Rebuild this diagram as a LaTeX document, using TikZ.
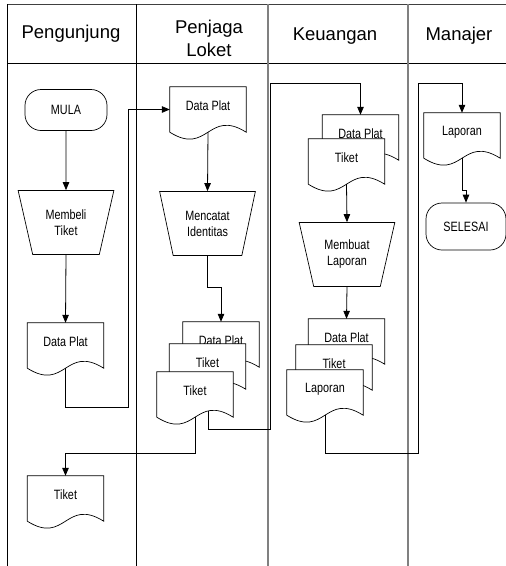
\documentclass[tikz,border=0pt]{standalone}
\usepackage{fontspec}
\setmainfont{Liberation Sans}
\newfontfamily\narrowsf[FakeStretch=0.8]{Liberation Sans}
\usetikzlibrary{arrows.meta,shapes.geometric,calc}
\newcommand\docshape[3]{%
  \node[docbox] (#1) at (#2) {};
  \draw[shp,fill=white] (#1.north west) -- (#1.north east) -- (#1.south east)
    .. controls ($(#1.south)+(0,-24)$) and ($(#1.south)+(0,24)$) .. (#1.south west) -- cycle;
  \node[doctxt] (#1-t) at ([yshift=-19pt]#1.north) {#3};
}

\begin{document}
\begin{tikzpicture}[x=1pt, y=-1pt, >={Triangle[length=8pt,width=6.5pt]},
    shp/.style={draw, line width=0.7pt},
    head/.style={font=\fontsize{18.5}{23}\selectfont, align=center},
    doctxt/.style={font=\narrowsf\fontsize{13.5}{15}\selectfont, inner sep=0pt},
    docbox/.style={rectangle, inner sep=0pt, minimum width=76pt, minimum height=45pt},
    terminal/.style={shp, rectangle, rounded corners=16pt, minimum width=82pt, minimum height=41pt, font=\narrowsf\fontsize{13.5}{15}\selectfont},
    proc/.style={shp, trapezium, trapezium angle=71, shape border rotate=180, trapezium stretches=true,
      minimum width=96pt, minimum height=64pt, inner sep=0pt, align=center, font=\narrowsf\fontsize{13.5}{16}\selectfont},
    conn/.style={line width=0.8pt}]
  \useasboundingbox (0,0) rectangle (506,566);
  % lanes
  \draw[line width=0.9pt, black!75] (7,4) -- (506,4);
  \draw[line width=0.9pt] (7,63) -- (506,63);
  \draw[line width=0.8pt] (7,4) -- (7,566);
  \draw[line width=0.8pt] (136,4) -- (136,566);
  \draw[line width=1.2pt, gray] (268,4) -- (268,566);
  \draw[line width=1.2pt, gray] (408,4) -- (408,566);
  \node[head] (hPeng) at (71,34) {Pengunjung};
  \node[head] (hPenj) at (209,38) {Penjaga\\Loket};
  \node[head] (hKeu) at (335,36) {Keuangan};
  \node[head] (hMan) at (459,36) {Manajer};

  % Pengunjung
  \node[terminal] (mula) at (66,110) {MULA};
  \node[proc] (beli) at (66,222.5) {Membeli\\Tiket};
  \docshape{plat1}{65.5,345.5}{Data Plat}
  \docshape{tiket1}{65.5,498.5}{Tiket}

  % Penjaga Loket
  \docshape{plat2}{208,109.5}{Data Plat}
  \node[proc] (catat) at (207.5,223.5) {Mencatat\\Identitas};
  \docshape{lk1}{221,344.5}{Data Plat}
  \docshape{lk2}{207.5,366.5}{Tiket}
  \docshape{lk3}{195,394.5}{Tiket}

  % Keuangan
  \docshape{ku1}{360.5,137.5}{Data Plat}
  \docshape{ku2}{346.5,161.5}{Tiket}
  \node[proc] (buat) at (347,254.5) {Membuat\\Laporan};
  \docshape{ku3}{346.5,341.5}{Data Plat}
  \docshape{ku4}{334,367.5}{Tiket}
  \docshape{ku5}{325,392.5}{Laporan}

  % Manajer
  \docshape{lapor}{462,135.5}{Laporan}
  \node[terminal, minimum width=80pt, minimum height=47pt] (selesai) at (466,226.5) {SELESAI};

  % bends
  \coordinate (top) at (0,83);
  \coordinate (b1) at (128,407);
  \coordinate (b2) at (270,429);
  \coordinate (b3) at (418,453);
  \coordinate (lk3o) at ($(lk3.south)+(13,-6)$);

  \draw[conn,->] (mula) -- (beli);
  \draw[conn,->] (beli.south) -- (plat1.north);
  \draw[conn,->] (plat1.south) |- (b1) |- (plat2.west);
  \draw[conn,->] (plat2.south) -- (catat.north);
  \draw[conn,->] (catat.south) -- ++(0,32) -| (lk1.north);
  \draw[conn,->] (lk3.south) -- ++(0,36) -| (tiket1.north);
  \draw[conn,->] (lk3o) |- (b2) |- (ku1.north |- top) -- (ku1.north);
  \draw[conn,->] (ku2.south) -- (buat.north);
  \draw[conn,->] (buat.south) -- (ku3.north);
  \draw[conn,->] (ku5.south) |- (b3) |- (lapor.north |- top) -- (lapor.north);
  \draw[conn,->] (lapor.south) -- ++(0,32) -| (selesai.north);
\end{tikzpicture}
\end{document}
